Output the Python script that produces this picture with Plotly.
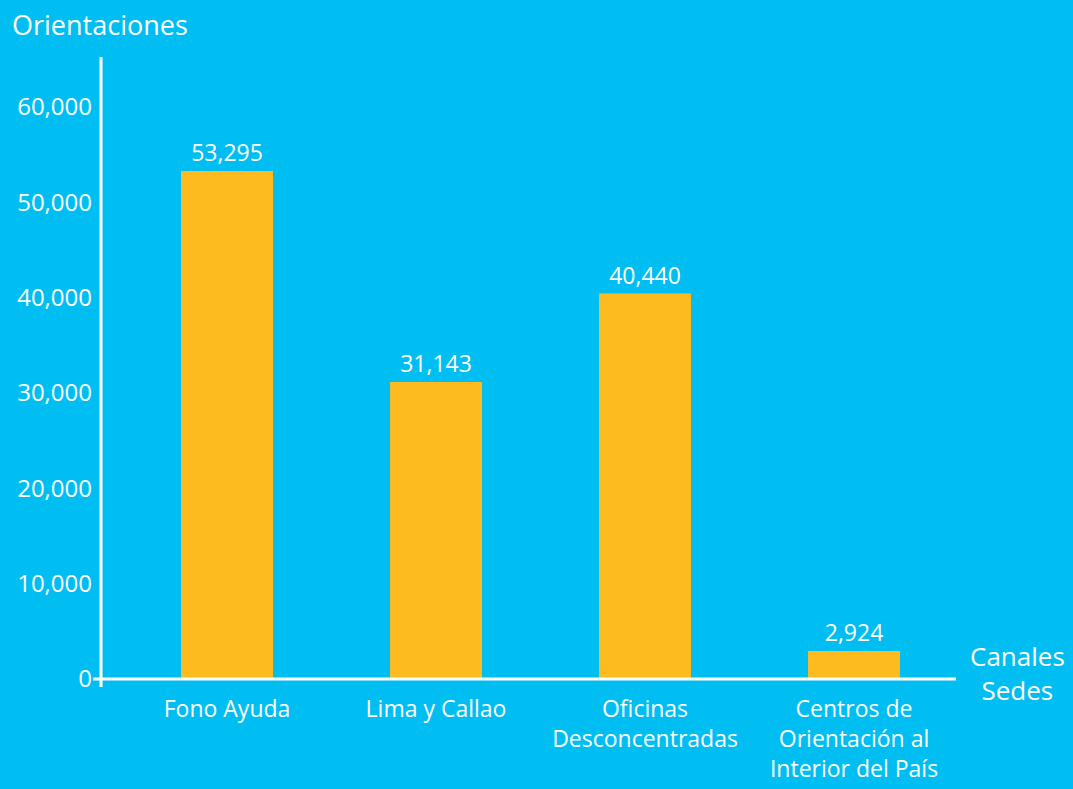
import plotly.graph_objects as go

# Orientaciones por canal / sede
categorias = ["Fono Ayuda", "Lima y Callao", "Oficinas<br>Desconcentradas",
              "Centros de<br>Orientación al<br>Interior del País"]
orientaciones = [53295, 31143, 40440, 2924]
y_ticks = [0, 10000, 20000, 30000, 40000, 50000, 60000]
y_tick_labels = ["0", "10,000", "20,000", "30,000", "40,000", "50,000", "60,000"]

FONDO = "#00BEF2"
BARRA = "#FDBB20"
BLANCO = "#FFFFFF"
FUENTE = "Open Sans"

fig = go.Figure(
    go.Bar(
        x=list(range(len(categorias))),
        y=orientaciones,
        width=0.44,
        marker=dict(color=BARRA, line=dict(width=0)),
        text=[f"{v:,}" for v in orientaciones],
        textposition="outside",
        textfont=dict(color=BLANCO, size=23, family=FUENTE),
        cliponaxis=False,
    )
)

fig.update_layout(
    width=1073,
    height=789,
    paper_bgcolor=FONDO,
    plot_bgcolor=FONDO,
    margin=dict(l=101, r=117, t=57, b=102),
    showlegend=False,
    font=dict(family=FUENTE, color=BLANCO),
    xaxis=dict(
        range=[-0.603, 3.488],
        tickvals=list(range(len(categorias))),
        ticktext=categorias,
        tickfont=dict(size=23, color=BLANCO, family=FUENTE),
        showgrid=False,
        zeroline=False,
        showline=False,
        ticks="",
        ticklabelstandoff=6,
        automargin=False,
    ),
    yaxis=dict(
        range=[-840, 65250],
        tickvals=y_ticks,
        ticktext=y_tick_labels,
        tickfont=dict(size=24, color=BLANCO, family=FUENTE),
        showgrid=False,
        zeroline=False,
        showline=False,
        ticks="",
        ticklabelstandoff=8,
        automargin=False,
    ),
    shapes=[
        # eje vertical
        dict(type="line", xref="paper", yref="paper", x0=0, x1=0, y0=0, y1=1,
             line=dict(color=BLANCO, width=3)),
        # eje horizontal en cero
        dict(type="line", xref="paper", yref="y", x0=-0.0094, x1=1, y0=0, y1=0,
             line=dict(color=BLANCO, width=3)),
    ],
    annotations=[
        dict(text="Orientaciones", xref="paper", yref="paper",
             x=-0.107, y=1.0, xanchor="left", yanchor="bottom", yshift=12,
             showarrow=False, font=dict(size=27, color=BLANCO, family=FUENTE)),
        dict(text="Canales<br>Sedes", xref="paper", yref="y",
             x=1.0, y=0, xanchor="left", yanchor="middle", xshift=12, yshift=6,
             align="center", showarrow=False,
             font=dict(size=26, color=BLANCO, family=FUENTE)),
    ],
)

fig.write_html("out.html")
